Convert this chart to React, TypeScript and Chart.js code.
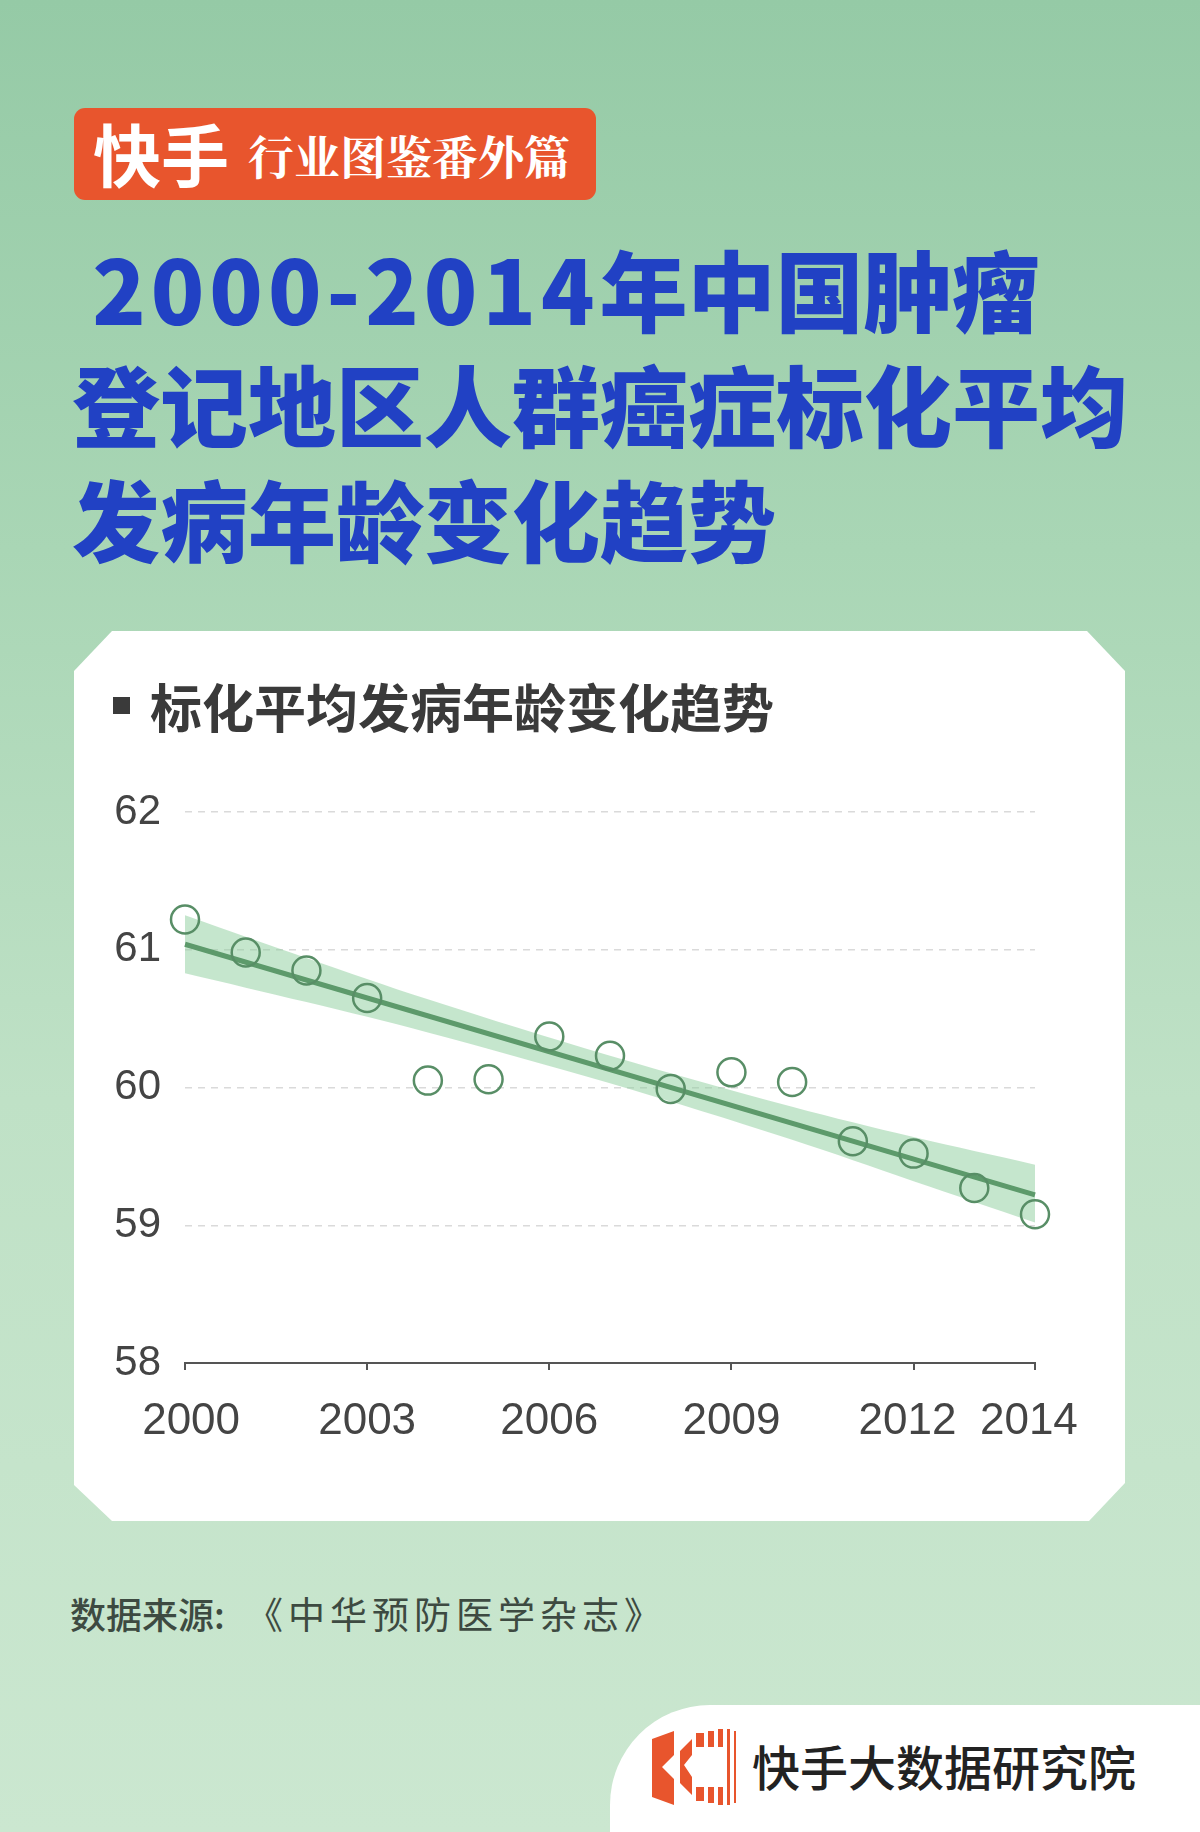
import React, { useEffect, useRef } from "react";
import { Chart, registerables } from "chart.js";

Chart.register(...registerables);

// ---- data ----
const years = [2000, 2001, 2002, 2003, 2004, 2005, 2006, 2007, 2008, 2009, 2010, 2011, 2012, 2013, 2014];
const avgAge = [61.22, 60.98, 60.85, 60.65, 60.05, 60.06, 60.37, 60.23, 59.99, 60.11, 60.04, 59.61, 59.52, 59.27, 59.08];
const trendYears = [2000, 2014];
const trendValues = [61.04, 59.22];
const bandYears = [2000, 2002, 2004, 2007, 2010, 2012, 2014];
const bandUpper = [61.25, 60.94, 60.64, 60.23, 59.86, 59.64, 59.44];
const bandLower = [60.83, 60.62, 60.4, 60.03, 59.62, 59.32, 59.02];
const xTickYears = [2000, 2003, 2006, 2009, 2012, 2014];
const xTickLabels = [" 2000", "2003", "2006", "2009", "2012 ", "2014 "];
const yMin = 58;
const yMax = 62;

const titleYears = "2000-2014";
const titleLine1Rest = "年中国肿瘤";
const titleLines23 = ["登记地区人群癌症标化平均", "发病年龄变化趋势"];
const chartHeading = "标化平均发病年龄变化趋势";
const sourceLabel = "数据来源:";
const sourceName = "《中华预防医学杂志》";
const brandText = "快手大数据研究院";

const CJK = '"Noto Sans CJK SC", "Noto Sans", sans-serif';

function ChartCanvas() {
  const ref = useRef<HTMLCanvasElement | null>(null);
  useEffect(() => {
    if (!ref.current) return;
    const pts = years.map((y, i) => ({ x: y, y: avgAge[i] }));
    const chart = new Chart(ref.current, {
      type: "line",
      data: {
        datasets: [
          {
            label: "points",
            data: pts,
            showLine: false,
            pointRadius: 14,
            pointBorderWidth: 2.5,
            pointBorderColor: "#588e66",
            pointBackgroundColor: "rgba(0,0,0,0)",
            order: 0,
            clip: false,
          } as any,
          {
            label: "trend",
            data: trendYears.map((y, i) => ({ x: y, y: trendValues[i] })),
            borderColor: "#5d9a6b",
            borderWidth: 5,
            pointRadius: 0,
            fill: false,
            order: 1,
            clip: false,
          },
          {
            label: "upper",
            data: bandYears.map((y, i) => ({ x: y, y: bandUpper[i] })),
            borderWidth: 0,
            borderColor: "rgba(0,0,0,0)",
            backgroundColor: "rgba(140,205,155,0.5)",
            pointRadius: 0,
            tension: 0.35,
            fill: "+1",
            order: 2,
          },
          {
            label: "lower",
            data: bandYears.map((y, i) => ({ x: y, y: bandLower[i] })),
            borderWidth: 0,
            borderColor: "rgba(0,0,0,0)",
            pointRadius: 0,
            tension: 0.35,
            fill: false,
            order: 3,
          },
        ],
      },
      options: {
        responsive: false,
        animation: false,
        events: [],
        layout: { padding: { top: 52, right: 90, bottom: 7, left: 0 } },
        plugins: { legend: { display: false }, tooltip: { enabled: false } },
        scales: {
          x: {
            type: "linear",
            min: 2000,
            max: 2014,
            afterBuildTicks: (scale: any) => {
              scale.ticks = xTickYears.map((v) => ({ value: v }));
            },
            afterFit: (scale: any) => {
              scale.height = 90;
            },
            border: { display: true, color: "#555", width: 2 },
            grid: {
              display: true,
              drawOnChartArea: false,
              drawTicks: true,
              tickLength: 7,
              color: "#555",
              lineWidth: 2,
            },
            ticks: {
              padding: 25,
              color: "#444",
              font: { family: '"Liberation Sans", Arial, sans-serif', size: 44 },
              maxRotation: 0,
              autoSkip: false,
              callback: (v: any) => {
                const i = xTickYears.indexOf(Number(v));
                return i >= 0 ? xTickLabels[i] : String(v);
              },
            },
          },
          y: {
            type: "linear",
            min: yMin,
            max: yMax,
            afterFit: (scale: any) => {
              scale.width = 111;
            },
            border: { display: false, dash: [7, 6] },
            grid: {
              drawTicks: false,
              color: (ctx: any) => (ctx.tick && ctx.tick.value === yMin ? "rgba(0,0,0,0)" : "#dadada"),
              lineWidth: 1.5,
              borderDash: [7, 6],
            },
            ticks: {
              stepSize: 1,
              padding: 24,
              color: "#444",
              font: { family: '"Liberation Sans", Arial, sans-serif', size: 42 },
              callback: (v: any) => String(v),
            },
          },
        },
      } as any,
    });
    return () => chart.destroy();
  }, []);
  return (
    <canvas
      ref={ref}
      width={1051}
      height={700}
      style={{ position: "absolute", left: 74, top: 760, width: 1051, height: 700 }}
    />
  );
}

const titleStyle: React.CSSProperties = {
  position: "absolute",
  left: 72,
  height: 116,
  lineHeight: "116px",
  fontSize: 88,
  fontWeight: 900,
  color: "#2141c4",
  whiteSpace: "pre",
  fontFamily: CJK,
};

export default function App() {
  return (
    <div
      style={{
        position: "absolute",
        left: 0,
        top: 0,
        width: 1200,
        height: 1832,
        overflow: "hidden",
        background: "linear-gradient(180deg, #95caa6 0%, #a9d6b5 30%, #bfe1c6 60%, #cbe7d0 100%)",
        fontFamily: CJK,
      }}
    >
      {/* badge */}
      <div
        style={{
          position: "absolute",
          left: 74,
          top: 108,
          width: 522,
          height: 92,
          background: "#e8552d",
          borderRadius: 11,
        }}
      >
        <span
          style={{
            position: "absolute",
            left: 19,
            top: 7,
            fontSize: 68,
            lineHeight: "76px",
            fontWeight: 700,
            color: "#fff",
            fontFamily: CJK,
          }}
        >
          快手
        </span>
        <span
          style={{
            position: "absolute",
            left: 174,
            top: 19,
            fontSize: 46,
            lineHeight: "54px",
            fontWeight: 700,
            color: "#fff",
            fontFamily: '"Noto Serif CJK SC", serif',
          }}
        >
          行业图鉴番外篇
        </span>
      </div>

      {/* title */}
      <div style={{ ...titleStyle, top: 229 }}>
        {" "}
        <span style={{ letterSpacing: 5 }}>{titleYears}</span>
        {titleLine1Rest}
      </div>
      {titleLines23.map((t, i) => (
        <div key={i} style={{ ...titleStyle, top: 229 + (i + 1) * 115 }}>
          {t}
        </div>
      ))}

      {/* card */}
      <div
        style={{
          position: "absolute",
          left: 74,
          top: 631,
          width: 1051,
          height: 890,
          background: "#ffffff",
          clipPath:
            "polygon(38px 0, calc(100% - 38px) 0, 100% 40px, 100% calc(100% - 38px), calc(100% - 36px) 100%, 38px 100%, 0 calc(100% - 36px), 0 40px)",
        }}
      />
      <div
        style={{
          position: "absolute",
          left: 113,
          top: 697,
          width: 17,
          height: 17,
          background: "#3a3a3a",
        }}
      />
      <div
        style={{
          position: "absolute",
          left: 150,
          top: 675,
          height: 62,
          lineHeight: "62px",
          fontSize: 52,
          fontWeight: 700,
          color: "#3a3a3a",
          whiteSpace: "nowrap",
          fontFamily: CJK,
        }}
      >
        {chartHeading}
      </div>

      <ChartCanvas />

      {/* source */}
      <div
        style={{
          position: "absolute",
          left: 70,
          top: 1590,
          height: 46,
          lineHeight: "46px",
          fontSize: 36,
          fontWeight: 500,
          color: "#3d4a41",
          whiteSpace: "pre",
          fontFamily: CJK,
        }}
      >
        {sourceLabel}
      </div>
      <div
        style={{
          position: "absolute",
          left: 246,
          top: 1590,
          height: 46,
          lineHeight: "46px",
          fontSize: 37,
          fontWeight: 400,
          letterSpacing: 5,
          color: "#3d4a41",
          whiteSpace: "pre",
          fontFamily: CJK,
        }}
      >
        {sourceName}
      </div>

      {/* bottom brand tab */}
      <div
        style={{
          position: "absolute",
          left: 610,
          top: 1705,
          width: 620,
          height: 140,
          background: "#ffffff",
          borderTopLeftRadius: 100,
        }}
      />
      <svg
        width={92}
        height={84}
        viewBox="0 0 92 84"
        style={{ position: "absolute", left: 650, top: 1725 }}
      >
        <polygon points="2,14 24,6 24,30 12,42 24,54 24,80 2,72" fill="#e8552d" />
        <polygon points="30,26 42,14 42,30 34,40 42,52 42,70 30,58" fill="#e8552d" />
        <rect x="46" y="8" width="8" height="14" fill="#e8552d" />
        <rect x="58" y="6" width="6" height="16" fill="#e8552d" />
        <rect x="68" y="4" width="5" height="18" fill="#e8552d" />
        <rect x="46" y="62" width="8" height="14" fill="#e8552d" />
        <rect x="58" y="62" width="6" height="16" fill="#e8552d" />
        <rect x="68" y="62" width="5" height="18" fill="#e8552d" />
        <rect x="77" y="4" width="3" height="76" fill="#e8552d" />
        <rect x="84" y="6" width="2" height="72" fill="#e8552d" />
      </svg>
      <div
        style={{
          position: "absolute",
          left: 752,
          top: 1736,
          height: 58,
          lineHeight: "58px",
          fontSize: 48,
          fontWeight: 500,
          color: "#222",
          whiteSpace: "nowrap",
          fontFamily: CJK,
        }}
      >
        {brandText}
      </div>
    </div>
  );
}
